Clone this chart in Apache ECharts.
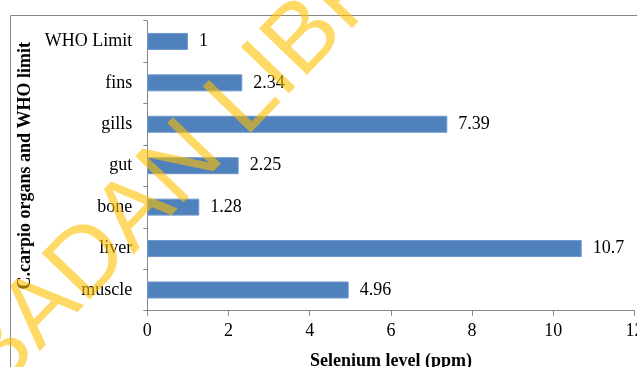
<!DOCTYPE html>
<html>
<head>
<meta charset="utf-8">
<script src="https://cdn.jsdelivr.net/npm/echarts@6/dist/echarts.min.js"></script>
<style>
  html, body { margin: 0; padding: 0; background: #ffffff; }
  #chart { width: 637px; height: 367px; }
</style>
</head>
<body>
<div id="chart"></div>
<script>
// Selenium levels in C. carpio organs, compared with the WHO limit
const categories = ['muscle', 'liver', 'bone', 'gut', 'gills', 'fins', 'WHO Limit'];
const seleniumPpm = [4.96, 10.7, 1.28, 2.25, 7.39, 2.34, 1];
const xTicks = { min: 0, max: 12, interval: 2 };
const xTitle = 'Selenium level (ppm)';
const yTitle = 'C.carpio organs and WHO limit';
const stampLead = 'UNIVERSITY OF IBADAN ';
const stampTail = 'LIBRARY';

const serif = '"Liberation Serif", "Times New Roman", serif';
const axisGray = '#868686';

const chart = echarts.init(document.getElementById('chart'), null, { renderer: 'canvas' });

// diagonal library stamp laid over the plot
const stampAngle = 46 * Math.PI / 180;
const stampStyle = {
  fontFamily: '"Liberation Sans", Arial, sans-serif',
  fontSize: 97,
  fontWeight: 'normal',
  fill: 'rgba(255,192,0,0.6)',
  verticalAlign: 'middle'
};
const stampX = 226, stampY = 120;

chart.setOption({
  animation: false,
  grid: {
    left: 147.3, right: 2.5, top: 20.7, bottom: 56.3,
    containLabel: false,
    outerBoundsMode: 'none'
  },
  xAxis: {
    type: 'value',
    min: xTicks.min, max: xTicks.max, interval: xTicks.interval,
    name: xTitle,
    nameLocation: 'middle',
    nameGap: 42,
    nameTextStyle: { fontFamily: serif, fontSize: 18, fontWeight: 'bold', color: '#000' },
    axisLine: { show: true, lineStyle: { color: axisGray, width: 1 } },
    axisTick: { show: true, length: 5, lineStyle: { color: axisGray } },
    axisLabel: { fontFamily: serif, fontSize: 18, color: '#000', margin: 12, hideOverlap: false },
    splitLine: { show: false }
  },
  yAxis: {
    type: 'category',
    data: categories,
    name: yTitle,
    nameLocation: 'middle',
    nameGap: 102,
    nameTextStyle: { fontFamily: serif, fontSize: 18, fontWeight: 'bold', color: '#000' },
    axisLine: { show: true, lineStyle: { color: axisGray, width: 1 } },
    axisTick: { show: true, length: 4, lineStyle: { color: axisGray } },
    axisLabel: { fontFamily: serif, fontSize: 18, color: '#000', margin: 15 },
    splitLine: { show: false }
  },
  series: [{
    type: 'bar',
    data: seleniumPpm,
    barCategoryGap: '59%',
    itemStyle: { color: '#4F81BD', borderColor: '#6F97CB', borderWidth: 1 },
    label: {
      show: true,
      position: 'right',
      distance: 11,
      fontFamily: serif,
      fontSize: 18,
      color: '#000'
    }
  }],
  graphic: [
    {
      type: 'rect',
      silent: true,
      z: -1,
      shape: { x: 10.5, y: 15.5, width: 700, height: 400 },
      style: { fill: 'none', stroke: axisGray, lineWidth: 1 }
    },
    {
      type: 'text',
      silent: true,
      z: 100,
      x: stampX, y: stampY,
      rotation: stampAngle,
      style: Object.assign({ text: stampLead, align: 'right' }, stampStyle)
    },
    {
      type: 'text',
      silent: true,
      z: 100,
      x: stampX, y: stampY,
      rotation: stampAngle,
      style: Object.assign({ text: stampTail, align: 'left' }, stampStyle)
    }
  ]
});
</script>
</body>
</html>
